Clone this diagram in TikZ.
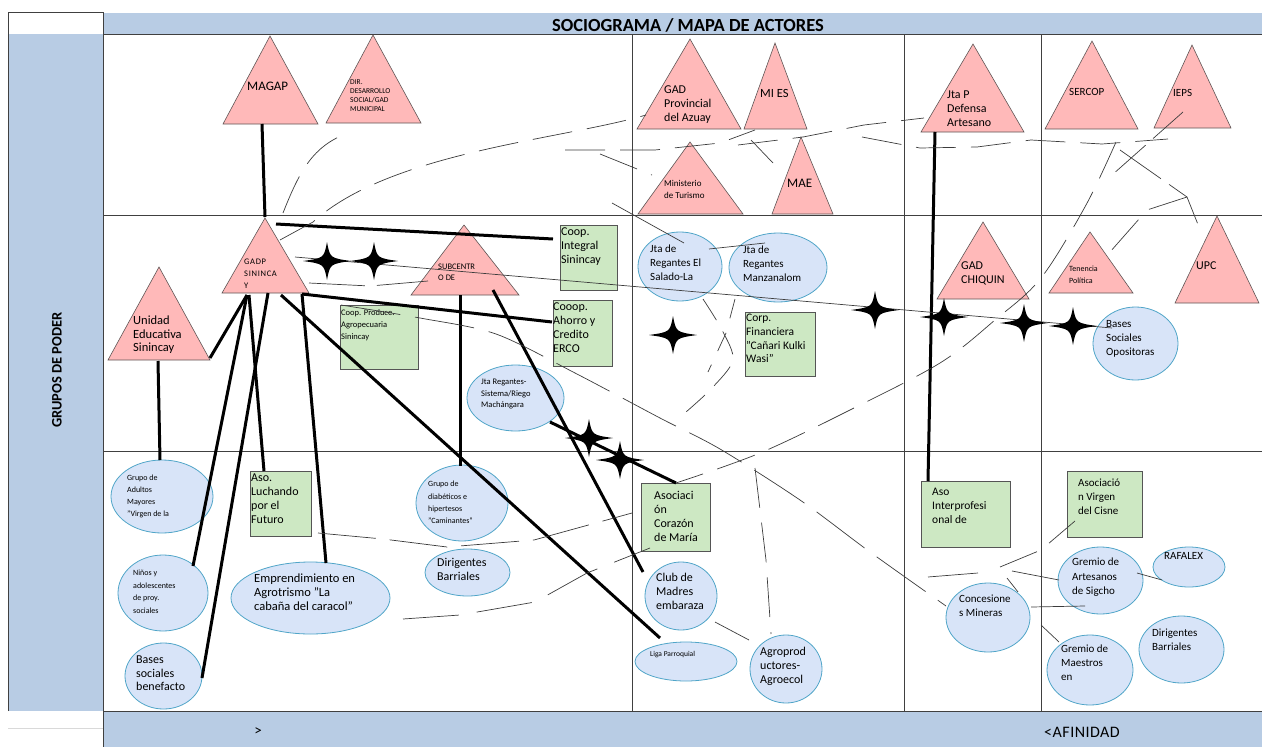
\documentclass[tikz,border=0pt]{standalone}
\usepackage{fontspec}
\setmainfont{Carlito}
\usetikzlibrary{shapes.geometric}
\definecolor{band}{RGB}{184,204,228}
\definecolor{pinkf}{RGB}{255,185,185}
\definecolor{trid}{RGB}{95,85,85}
\definecolor{greenf}{RGB}{205,232,195}
\definecolor{boxd}{RGB}{85,85,85}
\definecolor{bluef}{RGB}{216,228,248}
\definecolor{bluel}{RGB}{80,165,200}
\definecolor{webc}{RGB}{60,60,60}
\newcommand{\fsz}[2]{\fontsize{#1}{#2}\selectfont}
\newcommand{\trin}[6]{\draw[tri] (#2,#4) -- (#3,#4) -- (#5,#6) -- cycle; \coordinate (#1) at (#5,#6);}
\newcommand{\elli}[5]{\node[ell,minimum width=#4pt,minimum height=#5pt] (#1) at (#2,#3) {};}
\newcommand{\gboxn}[5]{\node[gbox,minimum width=#4pt,minimum height=#5pt] (#1) at (#2,#3) {};}
\begin{document}
\begin{tikzpicture}[x=1pt,y=-1pt,
  tri/.style={fill=pinkf,draw=trid,line width=0.6pt},
  gbox/.style={draw=boxd,fill=greenf,line width=0.8pt,inner sep=0pt,anchor=north west},
  ell/.style={ellipse,draw=bluel,fill=bluef,line width=0.8pt,inner sep=0pt},
  txt/.style={align=left,anchor=north west,inner sep=0pt,text=black},
  gridl/.style={draw=black!75,line width=0.7pt},
  con/.style={line width=3pt,black},
  thinl/.style={line width=0.7pt,webc},
  web/.style={thinl,dash pattern=on 40pt off 15pt},
  star4/.pic={\fill[black] (24,0) .. controls (3,3) .. (0,19) .. controls (-3,3) .. (-24,0) .. controls (-3,-3) .. (0,-19) .. controls (3,-3) .. (24,0) -- cycle;}
]
\useasboundingbox (0,0) rectangle (1262,747);
% bands
\fill[band] (103,13) rectangle (1262,34);
\fill[band] (8,34) rectangle (103,711);
\fill[band] (103,711) rectangle (1262,747);
\draw[black!15,line width=0.8pt] (8,728) -- (103,728);
\draw[gridl] (8,711) -- (8,12) -- (103,12);
\draw[gridl] (103,12) -- (103,747);
\draw[gridl] (103,34) -- (1262,34);
\draw[gridl] (103,215) -- (1262,215);
\draw[gridl] (103,451) -- (1262,451);
\draw[gridl,line width=1pt] (103,711) -- (1262,711);
\draw[gridl] (632,34) -- (632,711);
\draw[gridl] (904,34) -- (904,711);
\draw[gridl] (1041,34) -- (1041,711);
\node[font=\fsz{18.5}{20}\bfseries] (title) at (688,25) {SOCIOGRAMA / MAPA DE ACTORES};
\node[font=\fsz{14.5}{16}\bfseries,rotate=90] (gp) at (57,370) {GRUPOS DE PODER};
\node[font=\fsz{15}{17}] (gt) at (258,732) {>};
\node[font=\fsz{16}{18}\addfontfeature{LetterSpace=3}] (af) at (1082,732) {<AFINIDAD};
% triangles
\trin{magap}{223}{318}{124}{270}{36}
\trin{dir}{326}{421}{123}{373}{35}
\trin{gadprov}{637}{741}{129}{690}{39}
\trin{mies}{744}{807}{129}{775}{43}
\trin{mintur}{638}{743}{214}{690}{142}
\trin{mae}{772}{833}{214}{801}{137}
\trin{jtap}{921}{1024}{132}{973}{44}
\trin{sercop}{1045}{1138}{129}{1092}{41}
\trin{ieps}{1154}{1231}{128}{1192}{45}
\trin{gadp}{222}{309}{293}{265}{218}
\trin{subc}{411}{519}{295}{464}{225}
\trin{unidad}{108}{210}{360}{159}{267}
\trin{chiquin}{937}{1029}{299}{983}{222}
\trin{tenencia}{1049}{1133}{293}{1090}{232}
\trin{upc}{1175}{1259}{303}{1217}{216}
% boxes
\gboxn{cinteg}{560}{225}{57}{65}
\gboxn{cprod}{340}{305}{78}{64}
\gboxn{erco}{553}{300}{59}{66}
\gboxn{corp}{745}{312}{70}{64}
\gboxn{luchando}{250}{471}{61}{65}
\gboxn{corazon}{641}{483}{69}{68}
\gboxn{interp}{921}{481}{89}{66}
\gboxn{cisne}{1067}{471}{75}{66}
% ellipses
\elli{mach}{515.5}{398}{97}{66}
\elli{salado}{680}{266.5}{84}{69}
\elli{manz}{778}{267.5}{98}{69}
\elli{oposit}{1135.5}{343.5}{85}{73}
\elli{adultos}{162}{496.5}{102}{73}
\elli{diab}{462}{503}{92}{76}
\elli{dirig}{467.5}{572.5}{85}{47}
\elli{empr}{310.5}{598}{159}{72}
\elli{ninos}{163}{593}{90}{76}
\elli{benef}{163.5}{676}{77}{66}
\elli{club}{681}{596}{72}{68}
\elli{liga}{686}{661.5}{102}{39}
\elli{agro}{786}{669}{72}{68}
\elli{conces}{988}{617.5}{84}{69}
\elli{gartes}{1100.5}{580.5}{85}{67}
\elli{rafalex}{1189}{567}{72}{40}
\elli{gmaes}{1090}{670}{86}{70}
\elli{dirigr}{1181.5}{649.5}{85}{67}
% texts
\node[txt,font=\fsz{13}{15}] (tmagap) at (247,82) {MAGAP};
\node[txt,font=\fsz{7.5}{9}] (tdir) at (350,79) {DIR.\\DESARROLLO\\SOCIAL/GAD\\MUNICIPAL};
\node[txt,font=\fsz{12}{14}] (tgadprov) at (664,86) {GAD\\Provincial\\del Azuay};
\node[txt,font=\fsz{12.5}{14}] (tmies) at (760,89) {MI ES};
\node[txt,font=\fsz{9}{12}] (tmintur) at (664,180) {Ministerio\\de Turismo};
\node[txt,font=\fsz{13}{15}] (tmae) at (787,179) {MAE};
\node[txt,font=\fsz{12}{14}] (tjtap) at (947,91) {Jta P\\Defensa\\Artesano};
\node[txt,font=\fsz{11}{13}] (tsercop) at (1069,88) {SERCOP};
\node[txt,font=\fsz{11}{13}] (tieps) at (1173,89) {IEPS};
\node[txt,font=\fsz{8.5}{12}\addfontfeature{LetterSpace=8}] (tgadp) at (244,259) {GADP\\SININCA\\Y};
\node[txt,font=\fsz{8.5}{11}] (tsubc) at (438,264) {SUBCENTR\\O DE};
\node[txt,font=\fsz{12.5}{13.5}] (tunidad) at (133,316) {Unidad\\Educativa\\Sinincay};
\node[txt,font=\fsz{12}{14}] (tcinteg) at (561,228) {Coop.\\Integral\\Sinincay};
\node[txt,font=\fsz{8.5}{12}] (tcprod) at (341,309) {Coop. Produce.\\Agropecuaria\\Sinincay};
\node[txt,font=\fsz{12}{14}] (terco) at (553,303) {Cooop.\\Ahorro y\\Credito\\ERCO};
\node[txt,font=\fsz{8.5}{11.5}] (tmach) at (481,379) {Jta Regantes-\\Sistema/Riego\\Machángara};
\node[txt,font=\fsz{11}{14}] (tsalado) at (650,245) {Jta de\\Regantes El\\Salado-La};
\node[txt,font=\fsz{11}{14}] (tmanz) at (743,246) {Jta de\\Regantes\\Manzanalom};
\node[txt,font=\fsz{11.5}{13.7}] (tcorp) at (746,314) {Corp.\\Financiera\\"Cañari Kulki\\Wasi"};
\node[txt,font=\fsz{12}{14}] (tchiquin) at (961,262) {GAD\\CHIQUIN};
\node[txt,font=\fsz{8}{12}] (ttenencia) at (1069,266) {Tenencia\\Política};
\node[txt,font=\fsz{12}{14}] (tupc) at (1196,262) {UPC};
\node[txt,font=\fsz{11}{14}] (toposit) at (1106,320) {Bases\\Sociales\\Opositoras};
\node[txt,font=\fsz{8}{11.8}] (tadultos) at (127,475) {Grupo de\\Adultos\\Mayores\\"Virgen de la};
\node[txt,font=\fsz{12}{13.7}] (tluchando) at (251,474) {Aso.\\Luchando\\por el\\Futuro};
\node[txt,font=\fsz{8}{12.3}] (tdiab) at (428,481) {Grupo de\\diabéticos e\\hipertesos\\"Caminantes"};
\node[txt,font=\fsz{12}{14}] (tdirig) at (437,558) {Dirigentes\\Barriales};
\node[txt,font=\fsz{12.5}{14}] (tempr) at (254,574) {Emprendimiento en\\Agrotrismo "La\\cabaña del caracol"};
\node[txt,font=\fsz{8}{12.5}] (tninos) at (133,570) {Niños y\\adolescentes\\de proy.\\sociales};
\node[txt,font=\fsz{12}{13.5}] (tbenef) at (136,656) {Bases\\sociales\\benefacto};
\node[txt,font=\fsz{12}{14}] (tcorazon) at (654,491) {Asociaci\\ón\\Corazón\\de María};
\node[txt,font=\fsz{12}{14}] (tclub) at (656,573) {Club de\\Madres\\embaraza};
\node[txt,font=\fsz{7.5}{9}] (tliga) at (650,651) {Liga Parroquial};
\node[txt,font=\fsz{12}{14}] (tagro) at (760,647) {Agroprod\\uctores-\\Agroecol};
\node[txt,font=\fsz{11.5}{14}] (tinterp) at (932,488) {Aso\\Interprofesi\\onal de};
\node[txt,font=\fsz{11}{14}] (tcisne) at (1078,479) {Asociació\\n Virgen\\del Cisne};
\node[txt,font=\fsz{11}{14}] (tconces) at (959,595) {Concesione\\s Mineras};
\node[txt,font=\fsz{11}{14.5}] (tgartes) at (1072,558) {Gremio de\\Artesanos\\de Sigcho};
\node[txt,font=\fsz{11}{13}] (trafalex) at (1164,552) {RAFALEX};
\node[txt,font=\fsz{11}{14}] (tgmaes) at (1061,645) {Gremio de\\Maestros\\en};
\node[txt,font=\fsz{11}{14}] (tdirigr) at (1152,629) {Dirigentes\\Barriales};
% connector end points
\coordinate (magapB) at (262,124);
\coordinate (gadpTop) at (265,217);
\coordinate (gadpR1) at (276,224);
\coordinate (cintegL) at (553,239);
\coordinate (gadpBR) at (302,294);
\coordinate (ercoL) at (552,322);
\coordinate (unidadR) at (210,358);
\coordinate (gadpBL) at (247,295);
\coordinate (unidadB) at (158,361);
\coordinate (adultosT) at (160,460);
\coordinate (gadpB2) at (249,295);
\coordinate (luchT) at (264,471);
\coordinate (ninosR) at (193,566);
\coordinate (gadpB3) at (268,293);
\coordinate (benefR) at (202,678);
\coordinate (emprT) at (326,563);
\coordinate (gadpB4) at (281,295);
\coordinate (ligaT) at (660,638);
\coordinate (subcB) at (460,295);
\coordinate (diabT) at (460,466);
\coordinate (subcB2) at (493,290);
\coordinate (clubL) at (643,572);
\coordinate (machR) at (550,422);
\coordinate (corazonT) at (676,483);
\coordinate (jtapB) at (935,132);
\coordinate (interpT) at (928,481);
% thick connectors
\draw[con] (magapB) -- (gadpTop);
\draw[con] (gadpR1) -- (cintegL);
\draw[con] (gadpBR) -- (ercoL);
\draw[con] (unidadR) -- (gadpBL);
\draw[con] (unidadB) -- (adultosT);
\draw[con] (gadpB2) -- (luchT);
\draw[con] (gadpBL) -- (ninosR);
\draw[con] (gadpB3) -- (benefR);
\draw[con] (gadpBR) -- (emprT);
\draw[con] (gadpB4) -- (ligaT);
\draw[con] (subcB) -- (diabT);
\draw[con] (subcB2) -- (clubL);
\draw[con] (machR) -- (corazonT);
\draw[con] (jtapB) -- (interpT);
% thin connectors
\coordinate (gadpR2) at (295,257);
\coordinate (opositL) at (1112,328);
\draw[thinl] (gadpR2) -- (opositL);
\coordinate (gadpR3) at (309,283);
\coordinate (subcL) at (428,281);
\draw[thinl,dash pattern=on 56pt off 12pt] (gadpR3) -- (370,286) -- (subcL);
\coordinate (saladoR) at (709,249);
\coordinate (manzL) at (765,243);
\draw[thinl] (saladoR) -- (manzL);
\coordinate (minturBL) at (612,203);
\coordinate (saladoT) at (684,243);
\draw[thinl] (minturBL) -- (saladoT);
\coordinate (miesB) at (751,140);
\coordinate (maeL) at (773,163);
\draw[thinl] (miesB) -- (maeL);
\coordinate (clubR) at (715,622);
\coordinate (agroL) at (749,640);
\draw[thinl] (clubR) -- (agroL);
% dashed web
\coordinate (w1s) at (283,213); \coordinate (dirB) at (348,133);
\draw[web] (w1s) .. controls (300,170) and (313,146) .. (dirB);
\coordinate (gadpR4) at (280,240); \coordinate (gadprovL) at (646,115);
\draw[web] (gadpR4) -- (313,222) .. controls (390,152) and (560,140) .. (gadprovL);
\coordinate (w3s) at (565,150); \coordinate (miesBL) at (755,130);
\draw[web] (w3s) -- (655,150) -- (720,143) -- (miesBL);
\coordinate (w4s) at (600,154); \coordinate (minturL) at (652,175);
\draw[web] (w4s) -- (minturL);
\coordinate (w5s) at (738,145); \coordinate (jtapL) at (924,118);
\draw[web] (w5s) -- (803,137) -- (864,125) -- (jtapL);
\coordinate (w6s) at (862,137); \coordinate (w6e) at (1168,139);
\draw[web] (w6s) -- (920,148) -- (977,147) -- (1031,140) -- (1102,144) -- (w6e);
\coordinate (iepsB) at (1183,112); \coordinate (w7e) at (1112,175);
\draw[web,dash pattern=on 40pt off 10pt] (iepsB) -- (w7e);
\coordinate (w8s) at (1116,142);
\draw[web] plot[smooth,tension=0.55] coordinates {(w8s) (1086,205) (1041,278) (995,320) (940,363) (850,410) (760,453) (corazonT)};
\coordinate (w9s) at (1120,150); \coordinate (w9m) at (1187,197);
\coordinate (upcL) at (1201,232); \coordinate (tenenciaR) at (1110,252);
\draw[web,dash pattern=on 50pt off 10pt] (w9s) -- (w9m) -- (upcL);
\draw[web] (w9m) -- (1147,210) -- (tenenciaR);
\coordinate (cprodTL) at (341,305); \coordinate (concesL) at (946,606);
\draw[web,dash pattern=on 60pt off 15pt] plot[smooth,tension=0.5] coordinates {(cprodTL) (420,318) (496,334) (575,373) (660,418) (720,449) (800,500) (870,552) (concesL)};
\coordinate (saladoB) at (703,299); \coordinate (w11e) at (686,412);
\draw[web,dash pattern=on 25pt off 13pt] plot[smooth,tension=0.5] coordinates {(saladoB) (722,330) (733,360) (712,388) (w11e)};
\coordinate (manzB) at (735,299); \coordinate (w11f) at (708,372);
\draw[web,dash pattern=on 20pt off 15pt] (manzB) -- (726,333) -- (w11f);
\coordinate (w12s) at (755,468); \coordinate (agroT) at (771,634);
\draw[web] (w12s) -- (766,560) -- (agroT);
\coordinate (w13s) at (318,533); \coordinate (w13e) at (632,513);
\draw[web,dash pattern=on 58pt off 14pt] (w13s) -- (383,539) -- (447,547) -- (534,540) -- (w13e);
\coordinate (w14s) at (403,619); \coordinate (corazonBL) at (650,548);
\draw[web,dash pattern=on 56pt off 18pt] (w14s) -- (460,615) -- (535,602) -- (587,573) -- (corazonBL);
\coordinate (w17s) at (1000,567); \coordinate (cisneB) at (1075,521);
\draw[web] (w17s) -- (1041,550) -- (cisneB);
\coordinate (w18s) at (928,577); \coordinate (w18e) at (978,573);
\draw[thinl] (w18s) -- (w18e);
\coordinate (w19s) at (1012,571); \coordinate (gartesL) at (1059,580);
\draw[thinl] (w19s) -- (gartesL);
\coordinate (w20s) at (1007,578); \coordinate (concesT) at (1018,592);
\draw[thinl] (w20s) -- (concesT);
\coordinate (concesR) at (1031,607); \coordinate (gartesB) at (1085,606);
\draw[thinl] (concesR) -- (gartesB);
\coordinate (concesBR) at (1041,625); \coordinate (gmaesT) at (1059,642);
\draw[thinl] (concesBR) -- (gmaesT);
\coordinate (gartesR) at (1137,573); \coordinate (rafalexL) at (1162,580);
\draw[thinl] (gartesR) -- (rafalexL);
% stars
\pic at (327,261) {star4};
\pic at (374,261) {star4};
\pic at (673,335) {star4};
\pic at (875,310) {star4};
\pic at (944,317) {star4};
\pic at (1024,323) {star4};
\pic at (1073,326) {star4};
\pic at (589,438) {star4};
\pic at (620,460) {star4};
\end{tikzpicture}
\end{document}
